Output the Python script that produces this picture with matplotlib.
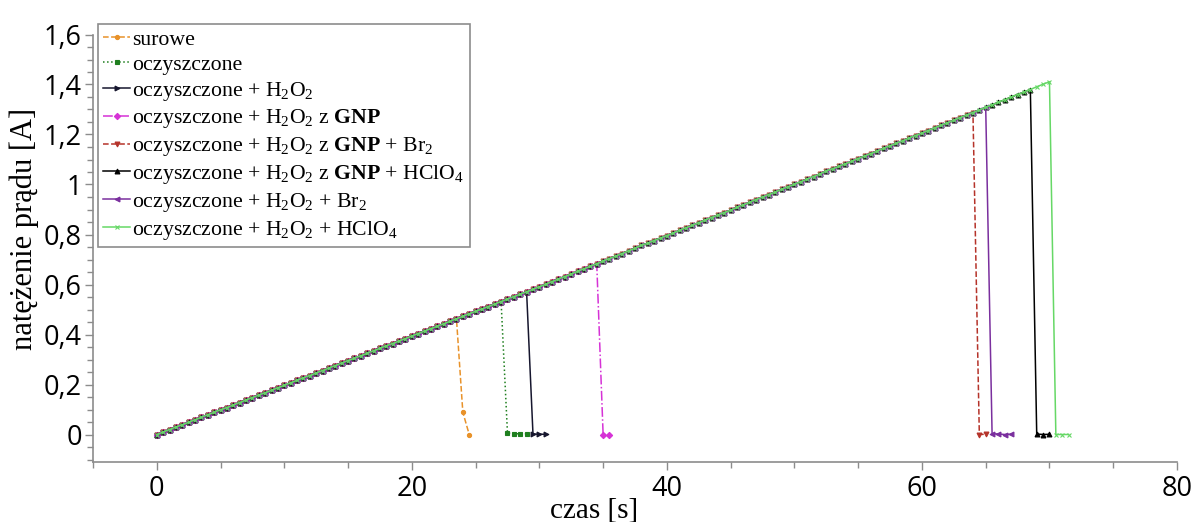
import numpy as np
import matplotlib
matplotlib.use("Agg")
import matplotlib.pyplot as plt
from matplotlib.ticker import MultipleLocator, FuncFormatter

# Logger sampling interval [s]
KROK = 0.5

# Common current ramp [A], one reading every KROK seconds from t = 0 s
prad_rampa = [
    0.000, 0.010, 0.020, 0.030, 0.039, 0.049, 0.059, 0.069, 0.079, 0.089,
    0.099, 0.108, 0.118, 0.128, 0.138, 0.148, 0.158, 0.167, 0.177, 0.187,
    0.197, 0.207, 0.217, 0.227, 0.236, 0.246, 0.256, 0.266, 0.276, 0.286,
    0.296, 0.305, 0.315, 0.325, 0.335, 0.345, 0.355, 0.364, 0.374, 0.384,
    0.394, 0.404, 0.414, 0.424, 0.433, 0.443, 0.453, 0.463, 0.473, 0.483,
    0.493, 0.502, 0.512, 0.522, 0.532, 0.542, 0.552, 0.561, 0.571, 0.581,
    0.591, 0.601, 0.612, 0.622, 0.632, 0.642, 0.653, 0.663, 0.673, 0.683,
    0.694, 0.704, 0.714, 0.724, 0.735, 0.745, 0.757, 0.765, 0.776, 0.786,
    0.796, 0.806, 0.817, 0.827, 0.837, 0.847, 0.858, 0.868, 0.878, 0.888,
    0.897, 0.909, 0.919, 0.929, 0.940, 0.950, 0.960, 0.970, 0.981, 0.991,
    1.001, 1.011, 1.022, 1.032, 1.042, 1.055, 1.063, 1.073, 1.083, 1.093,
    1.104, 1.114, 1.124, 1.134, 1.145, 1.155, 1.165, 1.175, 1.186, 1.196,
    1.206, 1.216, 1.227, 1.237, 1.247, 1.257, 1.268, 1.278, 1.288, 1.298,
    1.309, 1.319, 1.329, 1.339, 1.350, 1.360, 1.370, 1.380, 1.391, 1.401,
    1.411,
]

etykiety = [
    "surowe",
    "oczyszczone",
    r"oczyszczone + H$_2$O$_2$",
    r"oczyszczone + H$_2$O$_2$ z $\mathbf{GNP}$",
    r"oczyszczone + H$_2$O$_2$ z $\mathbf{GNP}$ + Br$_2$",
    r"oczyszczone + H$_2$O$_2$ z $\mathbf{GNP}$ + HClO$_4$",
    r"oczyszczone + H$_2$O$_2$ + Br$_2$",
    r"oczyszczone + H$_2$O$_2$ + HClO$_4$",
]

# Last sample [s] before the current breaks down
koniec_rampy = [23.5, 27.0, 29.0, 34.5, 64.0, 68.5, 65.0, 70.0]

# Samples recorded after the breakdown
czas_po = [
    [24.0, 24.5],
    [27.5, 28.0, 28.5, 29.0],
    [29.5, 30.0, 30.5],
    [35.0, 35.5],
    [64.5, 65.0],
    [69.0, 69.5, 70.0],
    [65.5, 66.0, 66.5, 67.0],
    [70.5, 71.0, 71.5],
]
prad_po = [
    [0.089, 0.000],
    [0.006, 0.004, 0.002, 0.003],
    [0.002, 0.001, 0.001],
    [0.000, 0.000],
    [0.000, 0.001],
    [0.002, 0.000, 0.001],
    [0.003, 0.002, 0.000, 0.001],
    [0.000, 0.000, 0.000],
]

kolory = ["#e8922a", "#1f7f1f", "#16162e", "#d632d6",
          "#b5332a", "#000000", "#7a2f9e", "#66d866"]
style = ["--", ":", "-", "-.", "--", "-", "-", "-"]
znaczniki = ["o", "s", ">", "D", "v", "^", "<", "x"]
rozmiary = [3.0, 3.5, 3.5, 3.2, 3.5, 3.5, 3.5, 3.0]

plt.rcParams["mathtext.fontset"] = "custom"
plt.rcParams["mathtext.rm"] = "Liberation Serif"
plt.rcParams["mathtext.it"] = "Liberation Serif:italic"
plt.rcParams["mathtext.bf"] = "Liberation Serif:bold"

fig = plt.figure(figsize=(11.94, 5.22), dpi=100)
W, H = 1194, 522
x0, x1 = 93, 1177
y0, y1 = 462, 34.5
ax = fig.add_axes([x0 / W, 1 - y0 / H, (x1 - x0) / W, (y0 - y1) / H])

czas_rampa = np.arange(len(prad_rampa)) * KROK
prad_rampa = np.array(prad_rampa)

for i in range(len(etykiety)):
    n = int(round(koniec_rampy[i] / KROK)) + 1
    t = np.concatenate([czas_rampa[:n], czas_po[i]])
    y = np.concatenate([prad_rampa[:n], prad_po[i]])
    ax.plot(t, y, color=kolory[i], linestyle=style[i], linewidth=1.1,
            marker=znaczniki[i], markersize=rozmiary[i],
            markeredgewidth=0.8, label=etykiety[i])

ax.set_xlim(-5, 80)
ax.set_ylim(-0.11, 1.6)

szary = "#8c8c8c"
for s in ("top", "right"):
    ax.spines[s].set_visible(False)
for s in ("left", "bottom"):
    ax.spines[s].set_color(szary)
    ax.spines[s].set_linewidth(1.2)

ax.xaxis.set_major_locator(MultipleLocator(20))
ax.xaxis.set_minor_locator(MultipleLocator(5))
ax.yaxis.set_major_locator(MultipleLocator(0.2))
ax.yaxis.set_minor_locator(MultipleLocator(0.05))

przecinek = FuncFormatter(lambda v, p: ("%g" % round(v, 3)).replace(".", ","))
ax.xaxis.set_major_formatter(przecinek)
ax.yaxis.set_major_formatter(przecinek)

ax.tick_params(which="major", direction="out", length=6, width=1.0,
               color=szary, labelsize=19.5, pad=3)
ax.tick_params(axis="y", which="major", pad=2)
ax.tick_params(which="minor", direction="out", length=4, width=1.0,
               color=szary)
for lab in ax.get_xticklabels() + ax.get_yticklabels():
    lab.set_fontfamily("Open Sans")

ax.set_xlabel("czas [s]", fontfamily="Liberation Serif", fontsize=21)
ax.xaxis.set_label_coords((594 - x0) / (x1 - x0), -(518 - y0) / (y0 - y1))
ax.xaxis.label.set_va("baseline")
ax.set_ylabel("natężenie prądu [A]", fontfamily="Liberation Serif",
              fontsize=22)
ax.yaxis.set_label_coords(-(x0 - 24) / (x1 - x0), (y0 - 229) / (y0 - y1))
ax.yaxis.label.set_va("center")

leg = ax.legend(loc="upper left", bbox_to_anchor=(98 / W, 1 - 24 / H),
                bbox_transform=fig.transFigure, frameon=True,
                fancybox=False, framealpha=1, edgecolor=szary,
                numpoints=1, handlelength=1.2, handletextpad=0.12,
                labelspacing=0.22, borderpad=0.25, borderaxespad=0,
                prop={"family": "Liberation Serif", "size": 15.7})
leg.get_frame().set_linewidth(1.2)

fig.savefig("out.png", dpi=100)
